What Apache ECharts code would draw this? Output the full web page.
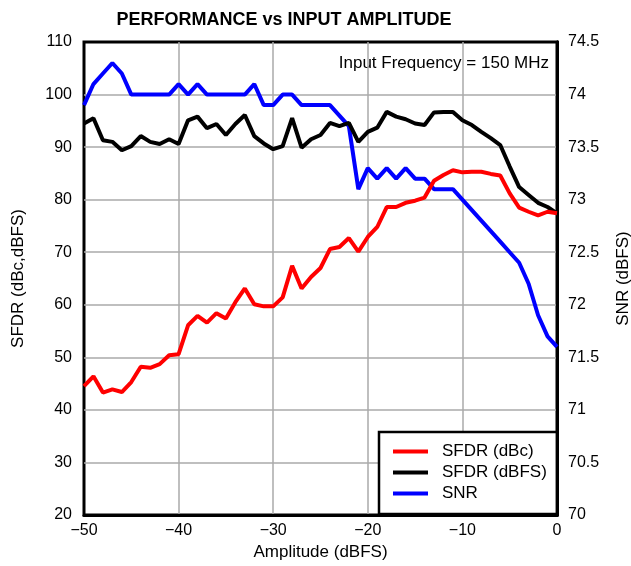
<!DOCTYPE html>
<html>
<head>
<meta charset="utf-8">
<script src="https://cdn.jsdelivr.net/npm/echarts@6/dist/echarts.min.js"></script>
<style>
  html, body { margin: 0; padding: 0; background: #fff; }
  #chart { width: 631px; height: 566px; }
</style>
</head>
<body>
<div id="chart"></div>
<script>
// amplitude steps, -50 .. 0 dBFS
const amplitude = [-50, -49, -48, -47, -46, -45, -44, -43, -42, -41, -40, -39, -38, -37, -36, -35, -34, -33, -32, -31, -30,
  -29, -28, -27, -26, -25, -24, -23, -22, -21, -20, -19, -18, -17, -16, -15, -14, -13, -12, -11, -10,
  -9, -8, -7, -6, -5, -4, -3, -2, -1, 0];

const sfdrDbc = [44.5, 46.4, 43.3, 43.9, 43.4, 45.3, 48.2, 48.0, 48.7, 50.4, 50.6, 56.1, 57.9, 56.6, 58.4, 57.4, 60.5, 63.1, 60.1, 59.7, 59.7,
  61.4, 67.4, 63.1, 65.3, 67.0, 70.6, 71.0, 72.7, 70.1, 72.9, 74.8, 78.6, 78.6, 79.4, 79.8, 80.4, 83.6, 84.7, 85.6, 85.2,
  85.3, 85.3, 84.9, 84.6, 81.2, 78.5, 77.7, 77.0, 77.7, 77.4];

const sfdrDbfs = [94.5, 95.5, 91.3, 91.0, 89.4, 90.2, 92.1, 91.0, 90.6, 91.5, 90.6, 95.1, 95.8, 93.6, 94.4, 92.3, 94.4, 96.1, 92.1, 90.7, 89.6,
  90.2, 95.5, 89.9, 91.5, 92.3, 94.6, 94.0, 94.6, 91.0, 92.9, 93.7, 96.7, 95.8, 95.3, 94.5, 94.2, 96.6, 96.7, 96.7, 95.1,
  94.2, 92.9, 91.7, 90.4, 86.3, 82.4, 80.9, 79.4, 78.6, 77.4];

const snr = [73.9, 74.1, 74.2, 74.3, 74.2, 74.0, 74.0, 74.0, 74.0, 74.0, 74.1, 74.0, 74.1, 74.0, 74.0, 74.0, 74.0, 74.0, 74.1, 73.9, 73.9,
  74.0, 74.0, 73.9, 73.9, 73.9, 73.9, 73.8, 73.7, 73.1, 73.3, 73.2, 73.3, 73.2, 73.3, 73.2, 73.2, 73.1, 73.1, 73.1, 73.0,
  72.9, 72.8, 72.7, 72.6, 72.5, 72.4, 72.2, 71.9, 71.7, 71.6];

const font = 'Liberation Sans, Arial, sans-serif';

function pairs(vals) {
  return amplitude.map((a, i) => [a, vals[i]]);
}

const chart = echarts.init(document.getElementById('chart'));
chart.setOption({
  animation: false,
  backgroundColor: '#fff',
  textStyle: { fontFamily: font, color: '#000' },
  title: {
    text: 'PERFORMANCE vs INPUT AMPLITUDE',
    left: 279, top: 6, textAlign: 'center',
    textStyle: { fontFamily: font, fontSize: 18, fontWeight: 'bold', color: '#000' }
  },
  grid: {
    left: 84, right: 74, top: 42, bottom: 51,
    outerBoundsMode: 'none',
    show: true, borderColor: '#000', borderWidth: 3
  },
  legend: {
    orient: 'vertical',
    left: 379, top: 432,
    padding: [11, 10, 12, 14],
    itemWidth: 35, itemHeight: 4, itemGap: 4,
    icon: 'rect',
    borderColor: '#000', borderWidth: 2.5,
    backgroundColor: '#fff',
    textStyle: { fontFamily: font, fontSize: 17, color: '#000', padding: [0, 0, 0, 9] },
    data: ['SFDR (dBc)', 'SFDR (dBFS)', 'SNR']
  },
  graphic: [{
    type: 'text', right: 82, top: 55,
    style: { text: 'Input Frequency = 150 MHz', font: '17px ' + font, fill: '#000' }
  }],
  xAxis: {
    type: 'value', min: -50, max: 0, interval: 10,
    name: 'Amplitude (dBFS)', nameLocation: 'middle', nameGap: 28,
    nameTextStyle: { fontFamily: font, fontSize: 17, color: '#000' },
    axisLine: { lineStyle: { color: '#000', width: 3 } },
    axisTick: { show: false },
    axisLabel: {
      fontFamily: font, fontSize: 16, color: '#000', margin: 8,
      formatter: v => String(v).replace('-', '\u2212')
    },
    splitLine: { show: true, showMinLine: false, showMaxLine: false, lineStyle: { color: '#aaa', width: 1.5 } }
  },
  yAxis: [{
    type: 'value', min: 20, max: 110, interval: 10,
    name: 'SFDR (dBc,dBFS)', nameLocation: 'middle', nameGap: 57, nameRotate: 90,
    nameTextStyle: { fontFamily: font, fontSize: 17, color: '#000' },
    axisLine: { show: true, lineStyle: { color: '#000', width: 3 } },
    axisTick: { show: false },
    axisLabel: { fontFamily: font, fontSize: 16, color: '#000', margin: 12 },
    splitLine: { show: true, showMinLine: false, showMaxLine: false, lineStyle: { color: '#aaa', width: 1.5 } }
  }, {
    type: 'value', min: 70, max: 74.5, interval: 0.5,
    name: 'SNR (dBFS)', nameLocation: 'middle', nameGap: 58, nameRotate: 90,
    nameTextStyle: { fontFamily: font, fontSize: 17, color: '#000' },
    axisLine: { show: true, lineStyle: { color: '#000', width: 3 } },
    axisTick: { show: false },
    axisLabel: { fontFamily: font, fontSize: 16, color: '#000', margin: 11 },
    splitLine: { show: false }
  }],
  series: [{
    name: 'SFDR (dBc)', type: 'line', yAxisIndex: 0, z: 4,
    data: pairs(sfdrDbc), showSymbol: false, color: '#ff0000',
    lineStyle: { width: 4, color: '#ff0000' }
  }, {
    name: 'SFDR (dBFS)', type: 'line', yAxisIndex: 0, z: 3,
    data: pairs(sfdrDbfs), showSymbol: false, color: '#000',
    lineStyle: { width: 4, color: '#000' }
  }, {
    name: 'SNR', type: 'line', yAxisIndex: 1, z: 2,
    data: pairs(snr), showSymbol: false, color: '#0000ff',
    lineStyle: { width: 4, color: '#0000ff' }
  }]
});
</script>
</body>
</html>
